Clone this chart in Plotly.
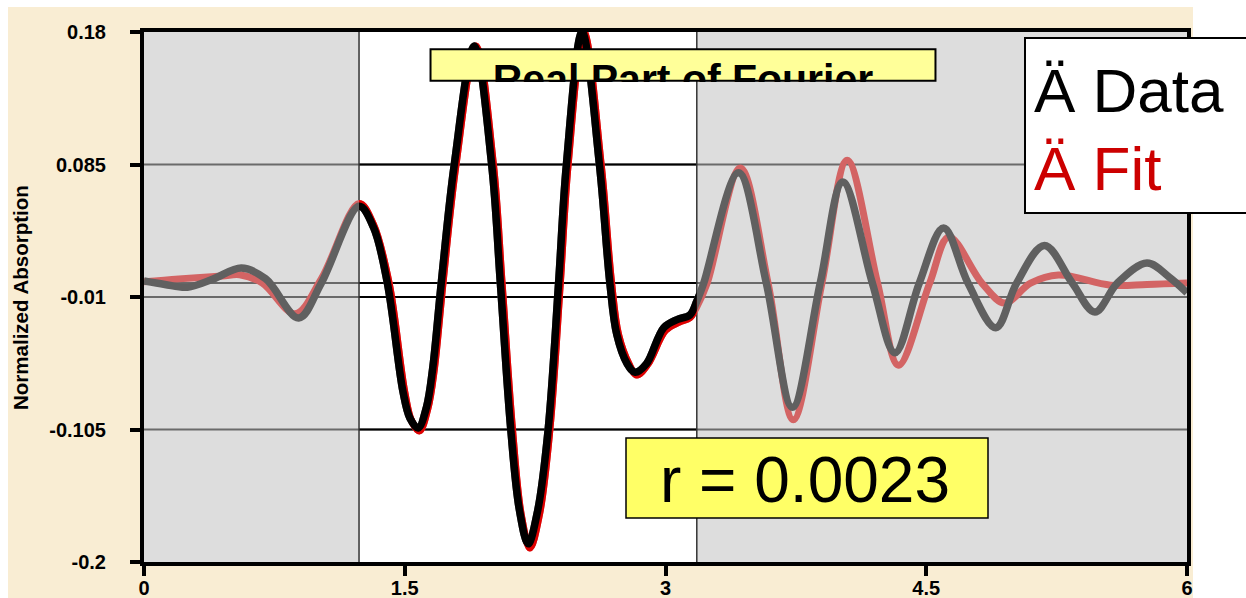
import plotly.graph_objects as go

# ---------------- data ----------------
r_data = [0.00, 0.12, 0.25, 0.40, 0.56, 0.70, 0.89, 1.02, 1.237, 1.32, 1.40, 1.49, 1.53, 1.577, 1.625, 1.66, 1.71,
          1.785, 1.90, 2.00, 2.05, 2.11, 2.16, 2.21, 2.265, 2.325, 2.385, 2.43, 2.52, 2.62, 2.68, 2.72, 2.78, 2.825,
          2.89, 2.99, 3.07, 3.14, 3.18, 3.22, 3.42, 3.58, 3.73, 3.89, 4.02, 4.19, 4.32, 4.46, 4.60,
          4.74, 4.90, 5.02, 5.18, 5.34, 5.47, 5.60, 5.77, 5.90, 6.00]
y_data = [0.0015, -0.001, -0.003, 0.003, 0.0108, 0.003, -0.025, 0.0, 0.055, 0.040, 0.0, -0.078, -0.097, -0.104, -0.089,
          -0.062, 0.0,
          0.085, 0.17, 0.085, 0.0, -0.105, -0.163, -0.187, -0.163, -0.105, 0.0, 0.085, 0.18, 0.085, 0.0, -0.037,
          -0.058, -0.064,
          -0.058, -0.032, -0.026, -0.023, -0.013, 0.0, 0.079, 0.0, -0.089, 0.0, 0.0725, 0.0, -0.050, 0.0, 0.0395,
          0.0, -0.032, 0.0, 0.027, 0.0, -0.0208, 0.0, 0.0144, 0.004, -0.007]

r_fit = [0.00, 0.20, 0.45, 0.55, 0.68, 0.87, 1.02, 1.237, 1.32, 1.41, 1.50, 1.54, 1.585, 1.633, 1.67, 1.72, 1.795,
         1.91, 2.01, 2.06, 2.12, 2.17, 2.22, 2.275, 2.335, 2.395, 2.44, 2.53, 2.63, 2.69, 2.73, 2.79, 2.835, 2.90,
         3.00, 3.08, 3.14, 3.18, 3.24, 3.43, 3.59, 3.735, 3.90, 4.045, 4.22, 4.34, 4.52, 4.63, 4.82,
         4.95, 5.10, 5.26, 5.56, 5.77, 6.00]
y_fit = [0.001, 0.003, 0.005, 0.006, 0.0, -0.022, 0.003, 0.057, 0.042, 0.0, -0.078, -0.099, -0.106, -0.090, -0.062,
         0.0, 0.085,
         0.17, 0.085, 0.0, -0.105, -0.166, -0.190, -0.166, -0.105, 0.0, 0.085, 0.18, 0.085, 0.0, -0.037, -0.058,
         -0.066, -0.058,
         -0.034, -0.028, -0.025, -0.017, 0.0, 0.0825, 0.0, -0.098, 0.0, 0.088, 0.0, -0.059, 0.0, 0.033, 0.0,
         -0.0143, 0.0, 0.0058, -0.0015, -0.001, 0.0]

window = [1.237, 3.18]          # fitting window (white band)
x_range = [0, 6]
y_range = [-0.2, 0.18]
x_ticks = [0, 1.5, 3, 4.5, 6]
x_tick_labels = ["0", "1.5", "3", "4.5", "6"]
y_ticks = [0.18, 0.085, -0.01, -0.105, -0.2]
y_tick_labels = ["0.18", "0.085", "-0.01", "-0.105", "-0.2"]
grid_values = [0.085, 0.0, -0.01, -0.105]
title_text = "Real Part of Fourier"
legend_data = "Ä Data"
legend_fit = "Ä Fit"
r_text = "r = 0.0023"
y_title = "Normalized Absorption"

# ---------------- geometry ----------------
W, H = 1246, 598
L, R, T, B = 144, 1187, 32, 562
PW, PH = R - L, B - T
FONT = "Liberation Sans, Arial, sans-serif"


def px(xp):
    return (xp - L) / PW


def py(yp):
    return (B - yp) / PH


fig = go.Figure()

# full curves (outside-window colours) on the main axes
fig.add_trace(go.Scatter(x=r_fit, y=y_fit, mode="lines",
                         line=dict(color="#d36464", width=7, shape="spline", smoothing=1.0),
                         hoverinfo="skip", showlegend=False))
fig.add_trace(go.Scatter(x=r_data, y=y_data, mode="lines",
                         line=dict(color="#606060", width=7.5, shape="spline", smoothing=1.0),
                         hoverinfo="skip", showlegend=False))
# same curves in window colours on an overlay axis clipped to the fitting window
fig.add_trace(go.Scatter(x=r_fit, y=y_fit, mode="lines", xaxis="x2", yaxis="y2",
                         line=dict(color="#e00000", width=7, shape="spline", smoothing=1.0),
                         hoverinfo="skip", showlegend=False))
fig.add_trace(go.Scatter(x=r_data, y=y_data, mode="lines", xaxis="x2", yaxis="y2",
                         line=dict(color="#000000", width=7.5, shape="spline", smoothing=1.0),
                         hoverinfo="skip", showlegend=False))

# title text clipped inside its box (third subplot)
fig.add_trace(go.Scatter(x=[0.5], y=[-0.05], mode="text", text=["<b>" + title_text + "</b>"],
                         textposition="middle center", cliponaxis=True,
                         textfont=dict(family=FONT, size=41, color="black"),
                         xaxis="x3", yaxis="y3", hoverinfo="skip", showlegend=False))

shapes = []
# parchment background
shapes.append(dict(type="rect", xref="paper", yref="paper", x0=px(8), x1=px(1193), y0=py(640), y1=py(7),
                   fillcolor="#f9edd3", line=dict(width=0), layer="below"))
# plot regions
shapes.append(dict(type="rect", xref="x", yref="y", x0=x_range[0], x1=window[0], y0=y_range[0], y1=y_range[1],
                   fillcolor="#dddddd", line=dict(width=0), layer="below"))
shapes.append(dict(type="rect", xref="x", yref="y", x0=window[0], x1=window[1], y0=y_range[0], y1=y_range[1],
                   fillcolor="#ffffff", line=dict(width=0), layer="below"))
shapes.append(dict(type="rect", xref="x", yref="y", x0=window[1], x1=x_range[1], y0=y_range[0], y1=y_range[1],
                   fillcolor="#dddddd", line=dict(width=0), layer="below"))
# grid lines
for g in grid_values:
    shapes.append(dict(type="line", xref="x", yref="y", x0=x_range[0], x1=x_range[1], y0=g, y1=g,
                       line=dict(color="#6a6a6a", width=2), layer="below"))
    shapes.append(dict(type="line", xref="x", yref="y", x0=window[0], x1=window[1], y0=g, y1=g,
                       line=dict(color="#000000", width=2), layer="below"))
# window edges
for w in window:
    shapes.append(dict(type="line", xref="x", yref="y", x0=w, x1=w, y0=y_range[0], y1=y_range[1],
                       line=dict(color="#333333", width=1.5), layer="below"))
# title box (in the small overlay subplot so it sits above the curves)
shapes.append(dict(type="rect", xref="x3", yref="y3", x0=0, x1=1, y0=0, y1=1,
                   fillcolor="#ffff99", line=dict(color="black", width=2), layer="below"))
# legend box
shapes.append(dict(type="rect", xref="paper", yref="paper", x0=px(1025), x1=px(1262), y0=py(213), y1=py(38),
                   fillcolor="white", line=dict(color="black", width=2), layer="above"))
# r box
shapes.append(dict(type="rect", xref="paper", yref="paper", x0=px(626), x1=px(988), y0=py(518), y1=py(438),
                   fillcolor="#ffff66", line=dict(color="black", width=1.5), layer="above"))

annotations = [
    dict(text=legend_data, xref="paper", yref="paper", x=px(1032), y=py(91), xanchor="left", yanchor="middle",
         showarrow=False, font=dict(family=FONT, size=62, color="black")),
    dict(text=legend_fit, xref="paper", yref="paper", x=px(1032), y=py(168), xanchor="left", yanchor="middle",
         showarrow=False, font=dict(family=FONT, size=62, color="#cc0000")),
    dict(text=r_text, xref="paper", yref="paper", x=px(805), y=py(480), xanchor="center", yanchor="middle",
         showarrow=False, font=dict(family=FONT, size=64, color="black")),
    dict(text="<b>" + y_title + "</b>", xref="paper", yref="paper", x=px(20), y=py(298), xanchor="center",
         yanchor="middle", textangle=-90, showarrow=False, font=dict(family=FONT, size=20.5, color="black")),
]

span = x_range[1] - x_range[0]
tickfont = dict(family=FONT, size=20, color="black", weight="bold")
fig.update_layout(
    width=W, height=H, autosize=False,
    margin=dict(l=L, r=W - R, t=T, b=H - B, pad=0, autoexpand=False),
    paper_bgcolor="white", plot_bgcolor="rgba(0,0,0,0)",
    showlegend=False,
    xaxis=dict(range=x_range, tickvals=x_ticks, ticktext=x_tick_labels, showgrid=False, zeroline=False,
               showline=True, linewidth=4, linecolor="black", mirror=True, ticks="outside", ticklen=10,
               tickwidth=4, tickcolor="black", tickfont=tickfont, fixedrange=True, ticklabelstandoff=-5,
               automargin=False),
    yaxis=dict(range=y_range, tickvals=y_ticks, ticktext=y_tick_labels, showgrid=False, zeroline=False,
               showline=True, linewidth=4, linecolor="black", mirror=True, ticks="outside", ticklen=10,
               tickwidth=4, tickcolor="black", tickfont=tickfont, fixedrange=True, ticklabelstandoff=20,
               automargin=False),
    xaxis2=dict(domain=[(window[0] - x_range[0]) / span, (window[1] - x_range[0]) / span], range=window,
                anchor="y2", visible=False, fixedrange=True),
    yaxis2=dict(domain=[0, 1], range=y_range, anchor="x2", visible=False, fixedrange=True),
    xaxis3=dict(domain=[px(428), px(938)], range=[-0.005, 1.005], anchor="y3", visible=False, fixedrange=True),
    yaxis3=dict(domain=[py(82), py(48)], range=[-0.04, 1.04], anchor="x3", visible=False, fixedrange=True),
    shapes=shapes, annotations=annotations,
)

fig.write_html("out.html", config={"displayModeBar": False},
               post_script="document.body.style.margin='0';document.body.style.overflow='hidden';")
